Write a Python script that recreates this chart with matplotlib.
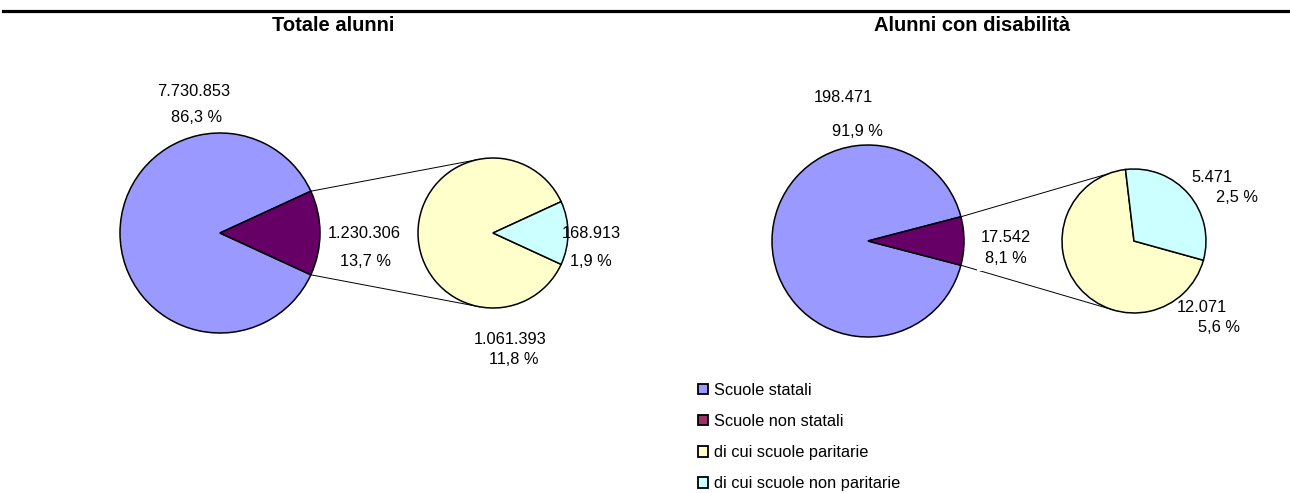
import matplotlib
matplotlib.use("Agg")
import matplotlib.pyplot as plt
from matplotlib.patches import Patch
from matplotlib.lines import Line2D
import numpy as np

plt.rcParams['font.family'] = ['Liberation Sans', 'DejaVu Sans']

# data
titoli = ["Totale alunni", "Alunni con disabilità"]
etichette = ["Scuole statali", "Scuole non statali",
             "di cui scuole paritarie", "di cui scuole non paritarie"]
tot_statali = 7730853
tot_non_statali = 1230306
tot_paritarie = 1061393
tot_non_paritarie = 168913
dis_statali = 198471
dis_non_statali = 17542
dis_paritarie = 12071
dis_non_paritarie = 5471

colori = ["#9999FF", "#660066", "#FFFFCC", "#CCFFFF"]
colori_legenda = ["#9999FF", "#993366", "#FFFFCC", "#CCFFFF"]

W, H = 1290, 493


def num(v):
    return "{:,}".format(v).replace(",", ".")


def perc(v, tot):
    return ("%.1f" % (100.0 * v / tot)).replace(".", ",") + " %"


def Y(py):
    return H - py


fig = plt.figure(figsize=(12.9, 4.93), dpi=100)
ax = fig.add_axes([0, 0, 1, 1])

wp = dict(edgecolor="black", linewidth=1.1)


def pie_of_pie(big, small, c1, r1, c2, r2, start2, ang_top, ang_bot):
    tot = sum(big)
    half = 360.0 * big[1] / tot / 2
    ax.pie(big, colors=colori[:2], center=(c1[0], Y(c1[1])), radius=r1,
           startangle=half, wedgeprops=wp, frame=True)
    ax.pie(small, colors=colori[2:], center=(c2[0], Y(c2[1])), radius=r2,
           startangle=start2, wedgeprops=wp, frame=True)
    # linee di collegamento
    for a1, a2 in [(half, ang_top), (-half, ang_bot)]:
        x1 = c1[0] + r1 * np.cos(np.radians(a1))
        y1 = Y(c1[1]) + r1 * np.sin(np.radians(a1))
        x2 = c2[0] + r2 * np.cos(np.radians(a2))
        y2 = Y(c2[1]) + r2 * np.sin(np.radians(a2))
        ax.plot([x1, x2], [y1, y2], color="black", lw=0.7, zorder=0.5)


# grafico sinistro
pie_of_pie([tot_statali, tot_non_statali], [tot_paritarie, tot_non_paritarie],
           (220, 233), 100, (493, 233), 75,
           360.0 * tot_non_paritarie / tot_non_statali / 2, 102, -100)
# grafico destro
cyan_span = 360.0 * dis_non_paritarie / dis_non_statali
pie_of_pie([dis_statali, dis_non_statali], [dis_paritarie, dis_non_paritarie],
           (868, 241), 96, (1134, 241), 72,
           -15.5 + cyan_span, 111, -105)

fs = 11.8
T = tot_statali + tot_non_statali
D = dis_statali + dis_non_statali


def lab(x, y, s, **kw):
    ax.text(x, Y(y), s, fontsize=fs, ha="center", va="center", **kw)


lab(194, 91, num(tot_statali))
lab(197, 117, perc(tot_statali, T))
lab(364, 233, num(tot_non_statali))
lab(365, 262, perc(tot_non_statali, T))
lab(591, 233, num(tot_non_paritarie))
lab(591, 262, perc(tot_non_paritarie, T))
lab(510, 339, num(tot_paritarie))
lab(514, 360, perc(tot_paritarie, T))

lab(843, 98, num(dis_statali))
lab(857, 131, perc(dis_statali, D))
ax.text(1006, Y(248), num(dis_non_statali) + "\n" + perc(dis_non_statali, D),
        fontsize=fs, ha="center", va="center", linespacing=1.57,
        bbox=dict(facecolor="white", edgecolor="none", pad=3), zorder=3)
lab(1212, 178, num(dis_non_paritarie))
lab(1237, 198, perc(dis_non_paritarie, D))
lab(1202, 307, num(dis_paritarie))
lab(1219, 327, perc(dis_paritarie, D))

ax.text(333, Y(31), titoli[0], fontsize=14.5, fontweight="bold", ha="center", va="baseline")
ax.text(972, Y(31), titoli[1], fontsize=14.5, fontweight="bold", ha="center", va="baseline")

ax.set_xlim(0, W)
ax.set_ylim(0, H)
ax.set_aspect("equal")
ax.axis("off")

# riga in alto
fig.add_artist(Line2D([3.0 / W, 1], [1 - 11.0 / H, 1 - 11.0 / H], color="black", lw=2.3))

handles = [Patch(facecolor=c, edgecolor="black", linewidth=1.3) for c in colori_legenda]
leg = ax.legend(handles, etichette, loc="upper left", bbox_to_anchor=(698.0 / W, 1 - 383.0 / H),
                frameon=False, fontsize=fs, handlelength=0.6, handleheight=0.6,
                handletextpad=0.4, labelspacing=0.98, borderaxespad=0, borderpad=0)

fig.savefig("out.png", dpi=100)
